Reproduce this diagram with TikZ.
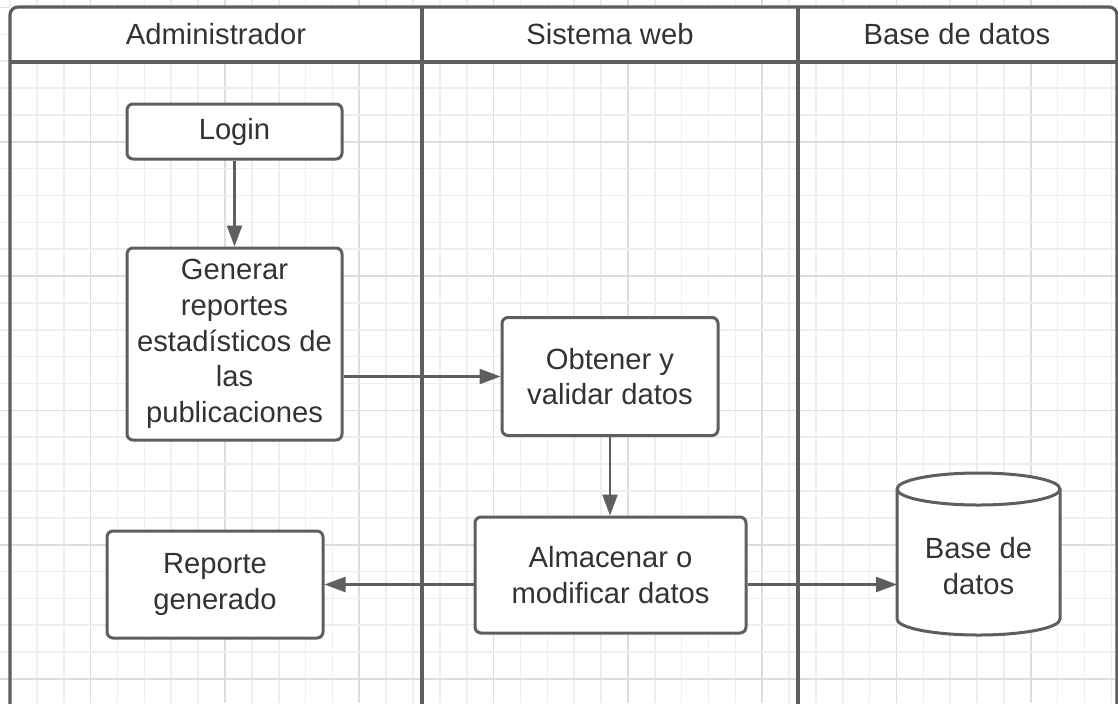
\documentclass[tikz,border=0pt]{standalone}
\usepackage{fontspec}
\setmainfont{Liberation Sans}
\usetikzlibrary{arrows.meta}
\definecolor{linec}{HTML}{5E5E5E}
\definecolor{textc}{HTML}{333333}
\definecolor{gridminor}{HTML}{EEEEEE}
\definecolor{gridmajor}{HTML}{DDDDDD}
\begin{document}
\begin{tikzpicture}[x=0.5pt,y=-0.5pt,
  box/.style={draw=linec, line width=1.5pt, fill=white, rounded corners=3pt, align=center,
    text=textc, font=\fontsize{14.6pt}{17.85pt}\selectfont, inner sep=0pt},
  lbl/.style={align=center, text=textc, font=\fontsize{14.6pt}{17.85pt}\selectfont, inner sep=0pt},
  arr/.style={draw=linec, line width=1.2pt, -{Triangle[length=10.5pt,width=7.5pt]}},
  lane/.style={draw=linec, line width=1.6pt},
  gmin/.style={draw=gridminor, line width=0.8pt},
  gmaj/.style={draw=gridmajor, line width=0.8pt}]
\useasboundingbox (0,0) rectangle (1118,703);
\begin{scope}
\clip (0,0) rectangle (1118,703);
\fill[white] (0,0) rectangle (1118,703);
% grid
\foreach \k in {0,...,41} {
  \pgfmathsetmacro\gx{10.1+26.86*\k}
  \pgfmathtruncatemacro\m{mod(\k,5)}
  \ifnum\m=3 \draw[gmaj] (\gx,0) -- (\gx,703); \else \draw[gmin] (\gx,0) -- (\gx,703); \fi
}
\foreach \k in {0,...,26} {
  \pgfmathsetmacro\gy{7.5+26.86*\k}
  \pgfmathtruncatemacro\m{mod(\k,5)}
  \ifnum\m=0 \draw[gmaj] (0,\gy) -- (1118,\gy); \else \draw[gmin] (0,\gy) -- (1118,\gy); \fi
}
% pool
\fill[white] (10,7) rectangle (1117,62);
\draw[lane, rounded corners=4pt] (10,7) rectangle (1117,720);
\draw[lane] (10,62) -- (1117,62);
\draw[lane] (422,7) -- (422,720);
\draw[lane] (798,7) -- (798,720);
\end{scope}
\node[lbl] (h1) at (216,34.5) {Administrador};
\node[lbl] (h2) at (610,34.5) {Sistema web};
\node[lbl] (h3) at (957,34.5) {Base de datos};
% boxes
\node[box, minimum width=107.5pt, minimum height=27.5pt] (login) at (234.5,131.5) {Login};
\node[box, minimum width=107.5pt, minimum height=96pt] (gen) at (234.5,344) {Generar\\reportes\\estadísticos de\\las\\publicaciones};
\node[box, minimum width=108pt, minimum height=59pt] (obt) at (610,376.5) {Obtener y\\validar datos};
\node[box, minimum width=135.5pt, minimum height=58pt] (alm) at (610.5,575) {Almacenar o\\modificar datos};
\node[box, minimum width=108pt, minimum height=53.5pt] (rep) at (215,584.5) {Reporte\\generado};
% database cylinder
\draw[linec, line width=1.5pt, fill=white] (897,489) -- (897,619)
  arc[start angle=180, end angle=360, x radius=40.75pt, y radius=8pt] -- (1060,489)
  arc[start angle=0, end angle=180, x radius=40.75pt, y radius=8pt] -- cycle;
\draw[linec, line width=1.5pt] (897,489) arc[start angle=180, end angle=360, x radius=40.75pt, y radius=8pt];
\node[lbl] (db) at (978.5,566) {Base de\\datos};
\coordinate (dbw) at (897,584.5);
% connectors
\draw[arr] (login) -- (gen);
\draw[arr] (gen.east |- obt.west) -- (obt.west);
\draw[arr] (obt.south) -- (obt.south |- alm.north);
\draw[arr] (alm.west |- rep.east) -- (rep.east);
\draw[arr] (alm.east |- rep.east) -- (dbw);
\end{tikzpicture}
\end{document}
